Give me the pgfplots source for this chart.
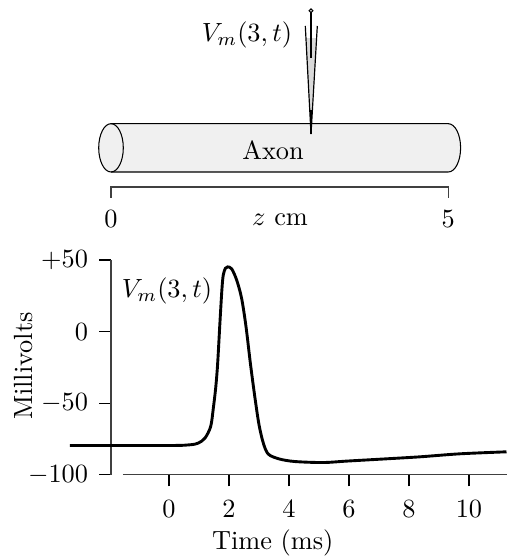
\documentclass[border=0pt]{standalone}
\usepackage{pgfplots}
\pgfplotsset{compat=1.18}
\definecolor{axfill}{gray}{0.94}
\definecolor{tipfill}{gray}{0.85}
\definecolor{linegray}{gray}{0.25}
\begin{document}
\begin{tikzpicture}
\path[use as bounding box] (0,0) rectangle (192.66pt,211.28pt);
\begin{axis}[
  at={(46.74pt,30.89pt)}, anchor=south west,
  scale only axis, width=145.92pt, height=81.59pt,
  xmin=-1.533, xmax=11.267, ymin=-100, ymax=50,
  clip=false,
  axis x line*=bottom, axis y line*=left,
  axis y line shift=4.56pt,
  axis line style={-, line width=0.5pt, linegray},
  xtick={0,2,4,6,8,10}, ytick={-100,-50,0,50},
  yticklabels={$-100$,$-50$,$0$,$+50$},
  xticklabel style={yshift=-2pt},
  yticklabel style={xshift=-0.8pt},
  tick align=outside, major tick length=4.4pt,
  tick style={line width=0.4pt, black},
  xlabel={Time (ms)}, ylabel={Millivolts},
  xlabel style={at={(axis description cs:0.39,-0.318)}, anchor=center},
  ylabel style={at={(axis description cs:-0.26,0.506)}, anchor=center},
]
\addplot[black, line width=1.1pt, smooth, tension=0.5, no markers] coordinates {
(-3.3,-79.6) (0.0,-79.6) (0.7,-79.1) (0.977,-77.9) (1.2,-74.4) (1.39,-66.3) (1.478,-53.5)
(1.556,-39.5) (1.62,-23) (1.70,7) (1.767,30.3) (1.81,39.6) (1.88,44.2) (1.956,45.2) (2.09,43.8)
(2.256,36) (2.42,23.3) (2.567,3.5) (2.715,-22.5) (2.867,-46.5) (3.0,-65)
(3.144,-77.9) (3.31,-85.6) (3.677,-89) (4.2,-90.8) (5.14,-91.5) (5.92,-90.5)
(7.25,-88.9) (8.37,-87.5) (9.7,-85.4) (11.25,-84)
};
\end{axis}
\begin{scope}[x=0.38pt,y=-0.38pt,yshift=211.28pt]
  % axon
  \draw[line width=0.4pt, fill=axfill]
    (111,123.7) -- (448.3,123.7) arc[start angle=-90,end angle=90,x radius=12.3,y radius=24.15]
    -- (111,172) arc[start angle=90,end angle=270,x radius=12.3,y radius=24.15] -- cycle;
  \draw[line width=0.4pt] (111,123.7) arc[start angle=-90,end angle=90,x radius=12.3,y radius=24.15];
  \node at (273,150) {Axon};
  % electrode
  \fill[tipfill] (305.3,26) -- (311,134) -- (317.3,26) -- cycle;
  \fill[white] (305.3,26) -- (317.3,26) -- (316,38) -- (306,38) -- cycle;
  \draw[line width=0.45pt] (305.3,26) -- (311,134) -- (317.3,26);
  \draw[line width=0.55pt] (311,12.5) -- (311,58.3);
  \draw[line width=0.7pt] (311,110) -- (311,134);
  \draw[line width=0.4pt, fill=white] (311,10.7) circle[radius=1.9];
  \node at (247,35) {$V_m(3,t)$};
  % scale
  \draw[line width=0.5pt, linegray] (111,198) -- (111,187) -- (448.3,187) -- (448.3,198);
  \node at (111,219) {$0$};
  \node at (448.3,219) {$5$};
  \node at (280,220) {$z$ cm};
  \node at (167,291) {$V_m(3,t)$};
\end{scope}
\end{tikzpicture}
\end{document}
